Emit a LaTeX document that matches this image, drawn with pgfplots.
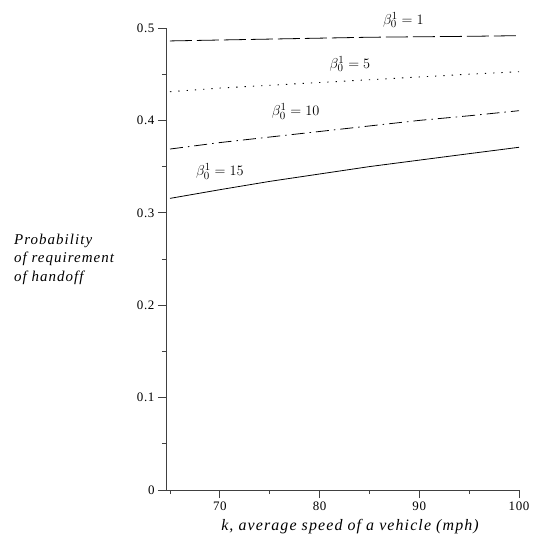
\documentclass[border=0pt]{standalone}
\usepackage{pgfplots}
\pgfplotsset{compat=1.18}
\usepackage{fontspec}
\setmainfont{Liberation Serif}
\begin{document}
\begin{tikzpicture}
\begin{axis}[
  name=ax,
  scale only axis,
  width=353bp, height=462bp,
  xmin=64.6, xmax=100, ymin=0, ymax=0.5,
  axis x line*=bottom, axis y line*=left,
  axis line style={black!75, line width=0.8pt},
  xtick={70,80,90,100}, minor xtick={65,75,85,95},
  ytick={0,0.1,0.2,0.3,0.4,0.5}, minor ytick={0.05,0.15,0.25,0.35,0.45},
  tick align=outside,
  major tick length=8bp, minor tick length=4bp,
  every tick/.style={black!75, line width=0.8pt},
  yticklabels={0,0.1,0.2,0.3,0.4,0.5},
  xticklabels={70,80,90,100},
  tick label style={font=\fontsize{13}{15}\selectfont\addfontfeature{LetterSpace=5}},
  /pgf/number format/assume math mode=true,
  clip=false,
]
\addplot[black, line width=0.8pt, dash pattern=on 22bp off 5bp] coordinates {
(65,0.486) (70,0.487) (75,0.488) (80,0.489) (85,0.490) (90,0.4905) (95,0.491) (100,0.4917)};
\addplot[black, line width=0.9pt, dash pattern=on 1.3bp off 7bp] coordinates {
(65,0.431) (70,0.435) (75,0.438) (80,0.441) (85,0.444) (90,0.447) (95,0.450) (100,0.4527)};
\addplot[black, line width=0.8pt, dash pattern=on 13bp off 5bp on 1.5bp off 5bp] coordinates {
(65,0.369) (70,0.376) (75,0.382) (80,0.388) (85,0.394) (90,0.400) (95,0.405) (100,0.4105)};
\addplot[black, line width=0.8pt] coordinates {
(65,0.3156) (70,0.325) (75,0.334) (80,0.342) (85,0.350) (90,0.357) (95,0.364) (100,0.3709)};
\node[font=\fontsize{15}{17}\selectfont] at (axis cs:88.4,0.5087) {$\beta^1_0 = 1$};
\node[font=\fontsize{15}{17}\selectfont] at (axis cs:83.05,0.461) {$\beta^1_0 = 5$};
\node[font=\fontsize{15}{17}\selectfont] at (axis cs:77.6,0.410) {$\beta^1_0 = 10$};
\node[font=\fontsize{15}{17}\selectfont] at (axis cs:70.0,0.345) {$\beta^1_0 = 15$};
\end{axis}
\node[anchor=base west, align=left, font=\fontsize{15}{18.5}\selectfont\itshape\addfontfeature{LetterSpace=7}, inner sep=0pt]
  at ([shift={(-152bp,-253bp)}]ax.north west) {Probability\\ of requirement\\ of handoff};
\node[font=\fontsize{16}{18}\selectfont\itshape\addfontfeature{LetterSpace=7}, inner sep=0pt]
  at ([shift={(184bp,-37bp)}]ax.south west) {k, average speed of a vehicle (mph)};
\pgfresetboundingbox
\path ([shift={(-166bp,-57bp)}]ax.south west) rectangle ([shift={(20bp,28bp)}]ax.north east);
\end{tikzpicture}
\end{document}
